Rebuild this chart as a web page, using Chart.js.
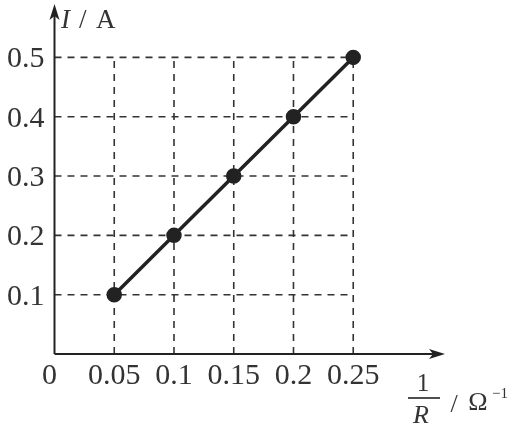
<!DOCTYPE html>
<html><head><meta charset="utf-8">
<script src="https://cdn.jsdelivr.net/npm/chart.js@4"></script>
<style>html,body{margin:0;padding:0;background:#fff}#wrap{width:514px;height:433px}</style>
</head><body><div id="wrap"><canvas id="c"></canvas></div>
<script>
const invR = [0.05, 0.1, 0.15, 0.2, 0.25];
const current = [0.1, 0.2, 0.3, 0.4, 0.5];
const xTicks = [0, 0.05, 0.1, 0.15, 0.2, 0.25];
const yTicks = [0.1, 0.2, 0.3, 0.4, 0.5];
const xTickLabels = ['0', '0.05', '0.1', '0.15', '0.2', '0.25'];
const yTickLabels = ['0.1', '0.2', '0.3', '0.4', '0.5'];
const INK = '#222';
const SERIF = '"Liberation Serif","Times New Roman",serif';

const decor = {
  id: 'decor',
  beforeDatasetsDraw(chart) {
    const {ctx, chartArea: a, scales: {x, y}} = chart;
    const gx = x.getPixelForValue(xTicks[xTicks.length - 1]);
    const gy = y.getPixelForValue(yTicks[yTicks.length - 1]);
    ctx.save();
    ctx.strokeStyle = '#333';
    ctx.lineWidth = 1.6;
    ctx.setLineDash([7, 6]);
    yTicks.forEach(v => {
      const py = y.getPixelForValue(v);
      ctx.beginPath(); ctx.moveTo(a.left, py); ctx.lineTo(gx, py); ctx.stroke();
    });
    xTicks.slice(1).forEach(v => {
      const px = x.getPixelForValue(v);
      ctx.beginPath(); ctx.moveTo(px, a.bottom); ctx.lineTo(px, gy); ctx.stroke();
    });
    ctx.setLineDash([]);
    // axes
    ctx.strokeStyle = INK; ctx.lineWidth = 2;
    ctx.beginPath(); ctx.moveTo(a.left, a.bottom); ctx.lineTo(a.right - 6, a.bottom); ctx.stroke();
    ctx.beginPath(); ctx.moveTo(a.left, a.bottom); ctx.lineTo(a.left, a.top + 6); ctx.stroke();
    ctx.fillStyle = INK;
    ctx.beginPath(); ctx.moveTo(a.right, a.bottom); ctx.lineTo(a.right - 16, a.bottom - 5); ctx.lineTo(a.right - 12, a.bottom); ctx.lineTo(a.right - 16, a.bottom + 5); ctx.closePath(); ctx.fill();
    ctx.beginPath(); ctx.moveTo(a.left, a.top); ctx.lineTo(a.left - 5, a.top + 16); ctx.lineTo(a.left, a.top + 12); ctx.lineTo(a.left + 5, a.top + 16); ctx.closePath(); ctx.fill();
    // tick labels
    ctx.font = '30px ' + SERIF;
    ctx.textBaseline = 'middle'; ctx.textAlign = 'center';
    ctx.fillStyle = '#333';
    xTicks.forEach((v, i) => {
      let px = x.getPixelForValue(v);
      if (i === 0) px -= 5;
      ctx.fillText(xTickLabels[i], px, a.bottom + 22);
    });
    ctx.textAlign = 'right';
    yTicks.forEach((v, i) => {
      ctx.fillText(yTickLabels[i], a.left - 10, y.getPixelForValue(v) + 2);
    });
    // y title I / A
    ctx.textAlign = 'left';
    ctx.font = 'italic 27px ' + SERIF;
    ctx.fillText('I', 61, 21);
    ctx.font = '27px ' + SERIF;
    ctx.fillText('/', 79, 21);
    ctx.fillText('A', 96, 21);
    // x title 1/R / Ω^-1
    ctx.textAlign = 'center';
    ctx.font = '25px ' + SERIF;
    ctx.fillText('1', 423, 384);
    ctx.lineWidth = 1.6;
    ctx.beginPath(); ctx.moveTo(408, 398); ctx.lineTo(440, 398); ctx.stroke();
    ctx.font = 'italic 26px ' + SERIF;
    ctx.fillText('R', 421, 416);
    ctx.font = '26px ' + SERIF;
    ctx.fillText('/', 454, 405);
    ctx.fillText('\u03A9', 478, 403);
    ctx.font = '15px ' + SERIF;
    ctx.fillText('\u22121', 500, 394);
    ctx.restore();
  }
};

new Chart(document.getElementById('c'), {
  type: 'scatter',
  data: {
    datasets: [{
      data: invR.map((v, i) => ({x: v, y: current[i]})),
      showLine: true,
      borderColor: INK,
      borderWidth: 3.5,
      pointRadius: 6,
      pointBackgroundColor: INK,
      pointBorderColor: INK,
      pointHoverRadius: 6
    }]
  },
  options: {
    responsive: true,
    maintainAspectRatio: false,
    animation: false,
    events: [],
    layout: {autoPadding: false, padding: {left: 0, right: 69, top: 4, bottom: 0}},
    plugins: {legend: {display: false}, tooltip: {enabled: false}},
    scales: {
      x: {
        type: 'linear', min: 0, max: 0.3268,
        grid: {display: false, drawTicks: false},
        border: {display: false},
        afterBuildTicks: s => { s.ticks = xTicks.map(v => ({value: v})); },
        ticks: {display: false},
        afterFit: s => { s.height = 79; }
      },
      y: {
        type: 'linear', min: 0, max: 0.59,
        grid: {display: false, drawTicks: false},
        border: {display: false},
        afterBuildTicks: s => { s.ticks = yTicks.map(v => ({value: v})); },
        ticks: {display: false},
        afterFit: s => { s.width = 54.5; }
      }
    }
  },
  plugins: [decor]
});
</script>
</body></html>
